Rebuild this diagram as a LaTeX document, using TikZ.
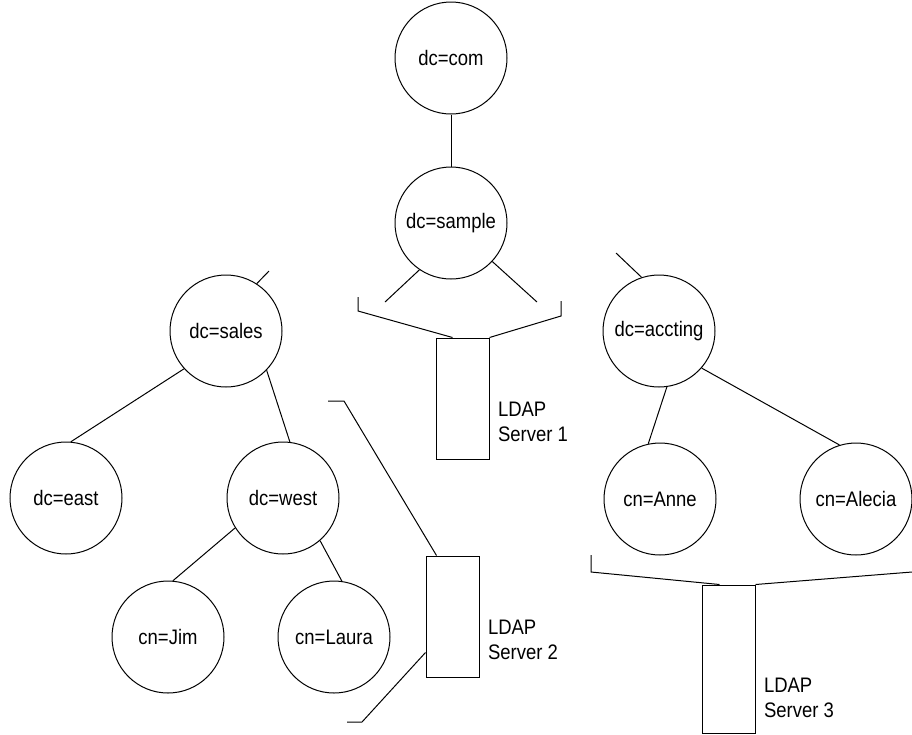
\documentclass[tikz,border=0pt]{standalone}
\usepackage{fontspec}
\setmainfont{Liberation Sans}[FakeStretch=0.88]
\usepackage{tikz}
\usetikzlibrary{positioning}

\begin{document}
\begin{tikzpicture}[x=1pt, y=-1pt, line width=1pt,
      entry/.style={draw, circle, minimum size=112pt, inner sep=0pt,
                    font=\fontsize{21}{25}\selectfont},
      server/.style={draw, rectangle, minimum width=53pt, inner sep=0pt},
      srvlabel/.style={align=left, inner sep=0pt,
                       font=\fontsize{21}{25}\selectfont}]
    \useasboundingbox (0,0) rectangle (912,734);

    % directory entries
    \node[entry] (com)     at (451,58)  {dc=com};
    \node[entry] (sample)  at (451,223) {dc=sample};
    \node[entry] (sales)   at (226,331) {dc=sales};
    \node[entry] (accting) at (659,331) {dc=accting};
    \node[entry] (east)    at (66,498)  {dc=east};
    \node[entry] (west)    at (283,498) {dc=west};
    \node[entry] (anne)    at (660,499) {cn=Anne};
    \node[entry] (alecia)  at (856,499) {cn=Alecia};
    \node[entry] (jim)     at (168,637) {cn=Jim};
    \node[entry] (laura)   at (334,637) {cn=Laura};

    % servers
    \node[server, minimum height=121pt] (srv1) at (462.5,398.5) {};
    \node[server, minimum height=121pt] (srv2) at (452.5,616.5) {};
    \node[server, minimum height=148pt] (srv3) at (728.5,659) {};
    \node[srvlabel, above right=17pt and 8pt of srv1.south east] (lbl1) {LDAP\\Server 1};
    \node[srvlabel, above right=17pt and 8pt of srv2.south east] (lbl2) {LDAP\\Server 2};
    \node[srvlabel, above right=15pt and 8pt of srv3.south east] (lbl3) {LDAP\\Server 3};

    % loose ends
    \coordinate (salesend) at (269,271);
    \coordinate (acctend) at (616,253);
    \coordinate (sampleL) at (385,302);
    \coordinate (sampleR) at (537,302);

    \draw (com) -- (sample);
    \draw (sample.236) -- (sampleL);
    \draw (sample.317) -- (sampleR);
    \draw (sales.57) -- (salesend);
    \draw (accting.108) -- (acctend);
    \draw (sales.222) -- (east.85);
    \draw (sales.316) -- (west.83);
    \draw (west.212) -- (jim.85);
    \draw (west.311) -- (laura.82);
    \draw (accting.278) -- (anne.102);
    \draw (accting.319) -- (alecia.107);

    % partition brackets
    \draw (358,297) -- (358,311) -- ([xshift=17pt]srv1.north west);
    \draw (srv1.north east) -- (561,316) -- (561,301);
    \draw (328,401) -- (344,401) -- ([xshift=11pt]srv2.north west);
    \draw ([yshift=25pt]srv2.south west) -- (362,722) -- (347,722);
    \draw (591,555) -- (591,572) -- ([xshift=18pt]srv3.north west);
    \draw (srv3.north east) -- (912,572);
\end{tikzpicture}
\end{document}
